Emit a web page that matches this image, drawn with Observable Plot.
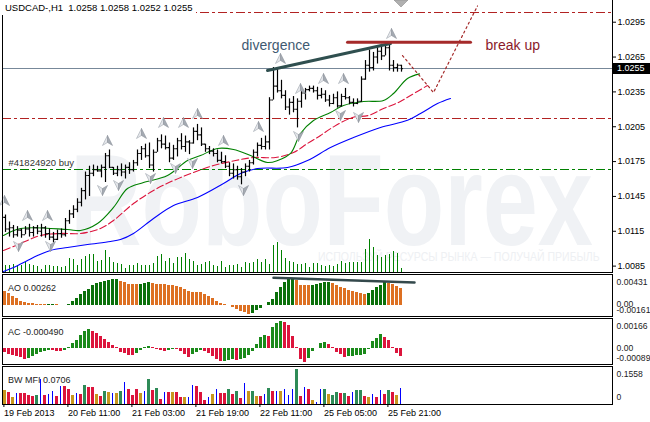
<!DOCTYPE html>
<html>
<head>
<meta charset="utf-8">
<script src="https://cdn.jsdelivr.net/npm/d3@7"></script>
<script src="https://cdn.jsdelivr.net/npm/@observablehq/plot@0.6"></script>
<style>
html,body{margin:0;padding:0;background:#fff;}
#wrap{position:relative;width:650px;height:422px;overflow:hidden;background:#fff;font-family:'Liberation Sans',Arial,sans-serif;}
</style>
</head>
<body>
<div id="wrap"></div>
<script>
// ---------------- DATA ----------------
const symbolName = "USDCAD-,H1";
const high = [1.0129,1.0123,1.0120,1.0119,1.0117,1.0119,1.0121,1.0119,1.0120,1.0121,
1.0119,1.0117,1.0114,1.0116,1.0117,1.0126,1.0133,1.0137,1.0143,1.0152,
1.0166,1.0171,1.0172,1.0171,1.0172,1.0182,1.0185,1.0170,1.0171,1.0173,
1.0172,1.0174,1.0176,1.0185,1.0188,1.0190,1.0191,1.0185,1.0195,1.0198,
1.0197,1.0191,1.0189,1.0195,1.0199,1.0197,1.0193,1.0204,1.0207,1.0204,
1.0190,1.0188,1.0186,1.0185,1.0183,1.0180,1.0174,1.0173,1.0171,1.0169,
1.0173,1.0176,1.0185,1.0191,1.0195,1.0197,1.0230,1.0256,1.0255,1.0245,
1.0236,1.0229,1.0231,1.0229,1.0236,1.0238,1.0240,1.0240,1.0239,1.0238,
1.0236,1.0232,1.0233,1.0235,1.0233,1.0238,1.0231,1.0229,1.0229,1.0248,
1.0262,1.0271,1.0269,1.0274,1.0276,1.0277,1.0277,1.0262,1.0259,1.0258];
const low = [1.0114,1.0110,1.0109,1.0110,1.0109,1.0112,1.0110,1.0110,1.0112,1.0110,
1.0109,1.0107,1.0105,1.0107,1.0109,1.0110,1.0121,1.0126,1.0131,1.0136,
1.0142,1.0145,1.0162,1.0166,1.0161,1.0157,1.0169,1.0163,1.0162,1.0162,
1.0160,1.0164,1.0166,1.0171,1.0176,1.0178,1.0169,1.0166,1.0183,1.0186,
1.0185,1.0174,1.0176,1.0179,1.0185,1.0183,1.0181,1.0190,1.0193,1.0188,
1.0183,1.0181,1.0179,1.0174,1.0173,1.0169,1.0162,1.0160,1.0159,1.0155,
1.0162,1.0166,1.0172,1.0179,1.0185,1.0185,1.0185,1.0228,1.0234,1.0229,
1.0219,1.0215,1.0217,1.0204,1.0221,1.0228,1.0235,1.0234,1.0228,1.0229,
1.0226,1.0222,1.0224,1.0221,1.0222,1.0228,1.0224,1.0222,1.0224,1.0226,
1.0245,1.0252,1.0253,1.0259,1.0262,1.0266,1.0253,1.0252,1.0252,1.0252];
const open = [1.0127,1.0117,1.0118,1.0112,1.0116,1.0112,1.0117,1.0114,1.0118,1.0115,
1.0118,1.0113,1.0110,1.0108,1.0113,1.0112,1.0124,1.0130,1.0134,1.0140,
1.0150,1.0163,1.0165,1.0168,1.0167,1.0170,1.0180,1.0170,1.0165,1.0168,
1.0166,1.0170,1.0168,1.0174,1.0182,1.0186,1.0180,1.0172,1.0183,1.0193,
1.0190,1.0187,1.0178,1.0186,1.0193,1.0188,1.0192,1.0191,1.0201,1.0198,
1.0190,1.0186,1.0184,1.0182,1.0176,1.0175,1.0171,1.0165,1.0168,1.0162,
1.0166,1.0171,1.0174,1.0183,1.0189,1.0188,1.0192,1.0228,1.0240,1.0236,
1.0232,1.0222,1.0226,1.0220,1.0227,1.0234,1.0237,1.0238,1.0236,1.0232,
1.0233,1.0228,1.0225,1.0230,1.0223,1.0231,1.0230,1.0226,1.0225,1.0227,
1.0246,1.0258,1.0256,1.0265,1.0270,1.0266,1.0273,1.0258,1.0256,1.0258];
const close = [1.0117,1.0118,1.0112,1.0116,1.0112,1.0117,1.0114,1.0118,1.0115,1.0118,
1.0113,1.0110,1.0108,1.0113,1.0112,1.0124,1.0130,1.0134,1.0140,1.0150,
1.0163,1.0165,1.0168,1.0167,1.0170,1.0180,1.0170,1.0165,1.0168,1.0166,
1.0170,1.0168,1.0174,1.0182,1.0186,1.0180,1.0172,1.0183,1.0193,1.0190,
1.0187,1.0178,1.0186,1.0193,1.0188,1.0192,1.0191,1.0201,1.0198,1.0190,
1.0186,1.0184,1.0182,1.0176,1.0175,1.0171,1.0165,1.0168,1.0162,1.0166,
1.0171,1.0174,1.0183,1.0189,1.0188,1.0192,1.0228,1.0240,1.0236,1.0232,
1.0222,1.0226,1.0220,1.0227,1.0234,1.0237,1.0238,1.0236,1.0232,1.0233,
1.0228,1.0225,1.0230,1.0223,1.0231,1.0230,1.0226,1.0225,1.0227,1.0246,
1.0258,1.0256,1.0265,1.0270,1.0266,1.0273,1.0258,1.0256,1.0258,1.0255];
const volume = [154,140,175,154,140,210,175,154,126,56,
154,140,126,126,105,126,301,280,154,266,
336,371,385,224,259,455,315,210,189,175,
84,140,154,196,140,140,154,196,329,385,
224,301,196,315,315,406,266,224,154,175,
210,224,140,126,224,105,140,154,175,105,
210,196,210,266,210,280,175,574,630,455,
301,224,210,175,175,189,105,196,189,140,
126,154,126,175,224,196,210,210,210,210,
490,686,525,364,315,350,385,434,406,84];

// Alligator lines (bar index, price)
const jawIdx = [-0.5,2,5.5,8,11.25,15.5,20.5,26.25,28.75,32,37,42,48,54.5,58.75,63,70.5,75.5,81.25,87,93.75,100.5,103.75,108,111.25];
const jawVal = [1.00804,1.00838,1.00898,1.00941,1.00985,1.01010,1.01036,1.01062,1.01079,1.01131,1.01260,1.01372,1.01441,1.01561,1.01647,1.01690,1.01699,1.01759,1.01871,1.01957,1.02044,1.02105,1.02164,1.02250,1.02293];
const teethIdx = [-0.5,2,5.5,8.75,13.75,18.75,23.75,27,32,37,42,47,52,57.5,62,67.5,72,75.5,78.75,81.75,86.75,90.75,94.5,98.25,101.25,105.5];
const teethVal = [1.00985,1.01019,1.01071,1.01114,1.01131,1.01131,1.01174,1.01243,1.01389,1.01501,1.01587,1.01656,1.01716,1.01759,1.01785,1.01785,1.01828,1.01906,1.01975,1.02044,1.02130,1.02147,1.02207,1.02259,1.02319,1.02405];
const lipsIdx = [-0.5,3.75,15.5,18.75,23,27,30.5,34.5,40.5,45.5,48.75,53,57,61.25,65.5,68,71.25,73.75,77,81.25,84.5,89.5,94.5,97,100.5,103.5];
const lipsVal = [1.01114,1.01174,1.01165,1.01157,1.01217,1.01355,1.01518,1.01570,1.01630,1.01759,1.01802,1.01863,1.01854,1.01802,1.01742,1.01759,1.01820,1.01992,1.02104,1.02173,1.02233,1.02267,1.02276,1.02336,1.02465,1.02505];

// Fractals
const upFracIdx = [-0.25,5.5,10.5,25.5,34,39.5,44.5,48,54.5,63.25,68.75,73.75,79.5,84.5,96.5];
const upFracVal = [1.01415,1.01286,1.01286,1.01932,1.01992,1.02087,1.02087,1.02164,1.01932,1.02052,1.02638,1.02379,1.02465,1.02465,1.02853];
const dnFracIdx = [3.25,11.25,24.25,28.25,36.25,42.5,46.75,59.5,73.25,83.75,88.25];
const dnFracVal = [1.01019,1.01019,1.01501,1.01544,1.01604,1.01691,1.01734,1.01501,1.01966,1.02147,1.02130];

// Levels & annotations
const stopLevels = [1.0303, 1.0212];
const buyLevel = 1.0168;
const buyLabel = "#41824920 buy";
const lastPrice = 1.0255;
const divergenceIdx = [65.5, 96.25];
const divergenceVal = [1.02534, 1.02767];
const breakIdx = [85.5, 116.25];
const breakVal = [1.02777, 1.02777];
const forecastIdx = [99.25, 107, 118];
const forecastVal = [1.02663, 1.02345, 1.0309];
const priceTicks = [1.0295,1.0265,1.0235,1.0205,1.0175,1.0145,1.0115,1.0085];

// Oscillators
const ao = [0.00213,0.00181,0.00138,0.00106,0.00064,0.00037,0.00027,0.00021,0.00016,0.00015,
0.00013,0.00014,0.00016,0.00005,-0.00005,-0.00002,0.00016,0.00053,0.00106,0.00165,
0.00223,0.00255,0.00309,0.00340,0.00362,0.00372,0.00394,0.00404,0.00410,0.00378,
0.00356,0.00335,0.00330,0.00325,0.00335,0.00351,0.00356,0.00340,0.00335,0.00330,
0.00325,0.00319,0.00314,0.00298,0.00277,0.00250,0.00218,0.00207,0.00202,0.00197,
0.00176,0.00144,0.00101,0.00064,0.00032,0.00011,-0.00011,-0.00032,-0.00064,-0.00096,
-0.00122,-0.00149,-0.00133,-0.00090,-0.00048,-0.00005,0.00037,0.00096,0.00202,0.00287,
0.00367,0.00415,0.00431,0.00399,0.00319,0.00309,0.00308,0.00319,0.00330,0.00346,
0.00356,0.00367,0.00346,0.00314,0.00287,0.00266,0.00239,0.00218,0.00207,0.00186,
0.00176,0.00186,0.00229,0.00277,0.00314,0.00362,0.00350,0.00330,0.00300,0.00262];
const aoTrendIdx = [67, 102.25];
const aoTrendVal = [0.00435, 0.00360];
const aoScaleLabels = [0.00431, 0, -0.00161];

const ac = [-0.00026,-0.00038,-0.00044,-0.00048,-0.00055,-0.00069,-0.00061,-0.00048,-0.00034,-0.00024,
-0.00016,-0.00012,-0.00014,-0.00016,-0.00018,-0.00010,0.00006,0.00028,0.00048,0.00077,
0.00105,0.00115,0.00105,0.00089,0.00073,0.00057,0.00036,0.00020,0.00006,-0.00022,
-0.00030,-0.00040,-0.00044,-0.00028,-0.00010,0.00008,0.00014,0.00004,-0.00006,-0.00014,
-0.00018,-0.00010,-0.00006,-0.00008,-0.00020,-0.00036,-0.00053,-0.00038,-0.00022,-0.00012,
-0.00018,-0.00028,-0.00046,-0.00067,-0.00079,-0.00077,-0.00073,-0.00069,-0.00071,-0.00069,
-0.00059,-0.00042,-0.00020,0.00024,0.00069,0.00079,0.00075,0.00127,0.00152,0.00166,
0.00158,0.00137,0.00071,0.00004,-0.00067,-0.00085,-0.00059,-0.00018,0.00002,0.00030,
0.00038,0.00024,0.00004,-0.00022,-0.00038,-0.00055,-0.00048,-0.00046,-0.00042,-0.00040,
-0.00038,-0.00004,0.00042,0.00063,0.00083,0.00069,0.00046,0.00006,-0.00032,-0.00049];
const acScaleLabels = [0.00166, 0, -0.00089];

const mfi = [0.0638,0.0549,0.0297,0.0475,0.0475,0.0475,0.0401,0.0356,0.0386,0.1113,
0.0386,0.0460,0.0594,0.0356,0.0787,0.0787,0.0668,0.0386,0.0505,0.0445,
0.0831,0.0757,0.0757,0.0430,0.0341,0.0564,0.0519,0.0475,0.0490,0.0564,
0.0965,0.0653,0.0386,0.0683,0.0475,0.0594,0.1098,0.0623,0.0712,0.0223,
0.0549,0.0549,0.0519,0.0519,0.0312,0.0312,0.0312,0.0846,0.0787,0.0519,
0.0178,0.0312,0.0430,0.0653,0.0475,0.0475,0.0653,0.0430,0.0579,0.0282,
0.0920,0.0564,0.0564,0.0371,0.0356,0.0430,0.0697,0.0564,0.0564,0.0564,
0.0683,0.0416,0.0668,0.1558,0.0356,0.0757,0.0668,0.0163,0.0104,0.0668,
0.0653,0.0430,0.0416,0.0519,0.0505,0.0490,0.0356,0.0549,0.0608,0.0608,
0.0356,0.0312,0.0430,0.0326,0.0638,0.0430,0.0608,0.0519,0.0416,0.0706];
// G = green, S = squat, F = fade, K = fake
const mfiType = ("FSFKSSSSGK"+"SKKSKSSFKS"+"GSSFSGFKFG"+"KSSSFKGSGS"+"KSFSSFKKSS"+
                 "SKFKSSGSGS"+"KFGFSKGSKF"+"KKKGSKSFKK"+"GFGGSGSKGG"+"SFKSKSGSFK").split("");
const mfiScaleLabels = [0.1558, 0];

const tickBars = [0,16,32,48,64,80,96];
const tickLabels = ["19 Feb 2013","20 Feb 11:00","21 Feb 03:00","21 Feb 19:00","22 Feb 11:00","25 Feb 05:00","25 Feb 21:00"];

// ---------------- BUILD ----------------
const FONT = "'Liberation Sans', Arial, sans-serif";
const wrap = document.getElementById("wrap");
function place(el, top) {
  el.style.position = "absolute"; el.style.left = "0px"; el.style.top = top + "px";
  el.style.maxWidth = "none"; wrap.appendChild(el); return el;
}
const pairs = (I, V) => I.map((i, k) => ({i, v: V[k]}));
const bars = high.map((h, i) => ({i, o: open[i], h, l: low[i], c: close[i], vol: volume[i]}));

// watermark (logo, decorative) – squeezed horizontally with a transform
wrap.insertAdjacentHTML("beforeend",
 `<svg id="wm" width="650" height="272" style="position:absolute;left:0;top:0">
   <text id="wm1" x="0" y="0" font-family="Liberation Sans, Arial, sans-serif" font-weight="bold" font-size="130" fill="#f0f2f5">RoboForex</text>
   <text id="wm2" x="0" y="0" font-family="Liberation Sans, Arial, sans-serif" font-size="13" fill="#eef0f3">ИСПОЛЬЗУЙ РЕСУРСЫ РЫНКА — ПОЛУЧАЙ ПРИБЫЛЬ</text>
  </svg>`);
function squeeze(id, x, y, w) {
  const t = document.getElementById(id);
  const k = w / t.getComputedTextLength();
  t.setAttribute("transform", `translate(${x},${y}) scale(${k},1)`);
}
squeeze("wm1", 70, 245, 523);
squeeze("wm2", 318, 261, 282);

const X = {domain: [-0.75, 151.75]};
const upL = {draw(c){c.moveTo(0,-5);c.lineTo(-5,5);c.lineTo(0,2);c.closePath();}};
const upR = {draw(c){c.moveTo(0,-5);c.lineTo(5,5);c.lineTo(0,2);c.closePath();}};
const dnL = {draw(c){c.moveTo(0,5);c.lineTo(-5,-5);c.lineTo(0,-2);c.closePath();}};
const dnR = {draw(c){c.moveTo(0,5);c.lineTo(5,-5);c.lineTo(0,-2);c.closePath();}};
const upF = pairs(upFracIdx, upFracVal), dnF = pairs(dnFracIdx, dnFracVal);

const yDom = [1.00795, 1.03137];
const volBase = yDom[0];
const volUnit = 0.002815 / 686;
const dashDot = "9,3,3,3";

const main = Plot.plot({
  width: 650, height: 274, marginTop: 0, marginBottom: 2, marginLeft: 2, marginRight: 38,
  style: {background: "transparent", fontFamily: FONT, fontSize: "9px", color: "#000", overflow: "visible"},
  x: {...X, axis: null},
  y: {domain: yDom},
  marks: [
    Plot.ruleY(stopLevels, {stroke: "#b22222", strokeDasharray: dashDot, shapeRendering: "crispEdges"}),
    Plot.ruleY([buyLevel], {stroke: "#008000", strokeDasharray: dashDot, shapeRendering: "crispEdges"}),
    Plot.ruleY([lastPrice], {stroke: "#778899", shapeRendering: "crispEdges"}),
    Plot.ruleX(bars, {x: "i", y1: volBase, y2: d => volBase + d.vol * volUnit, stroke: "#008000", shapeRendering: "crispEdges"}),
    Plot.line(pairs(jawIdx, jawVal), {x: "i", y: "v", stroke: "#0000ff", strokeWidth: 1.1, curve: "catmull-rom"}),
    Plot.line(pairs(teethIdx, teethVal), {x: "i", y: "v", stroke: "#dc143c", strokeWidth: 1.1, strokeDasharray: "7,3", curve: "catmull-rom"}),
    Plot.line(pairs(lipsIdx, lipsVal), {x: "i", y: "v", stroke: "#008000", strokeWidth: 1.1, curve: "catmull-rom"}),
    Plot.ruleX(bars, {x: "i", y1: "l", y2: "h", stroke: "#000", strokeWidth: 1.2}),
    Plot.ruleY(bars, {y: "o", x1: d => d.i - 0.45, x2: "i", stroke: "#000", strokeWidth: 1.1}),
    Plot.ruleY(bars, {y: "c", x1: "i", x2: d => d.i + 0.45, stroke: "#000", strokeWidth: 1.1}),
    Plot.dot(upF, {x: "i", y: "v", symbol: upL, fill: "#e4e6ea", stroke: "#a0a6ae", strokeWidth: 0.6}),
    Plot.dot(upF, {x: "i", y: "v", symbol: upR, fill: "#a4aab2", stroke: "#8e949c", strokeWidth: 0.6}),
    Plot.dot(dnF, {x: "i", y: "v", symbol: dnL, fill: "#e4e6ea", stroke: "#a0a6ae", strokeWidth: 0.6}),
    Plot.dot(dnF, {x: "i", y: "v", symbol: dnR, fill: "#a4aab2", stroke: "#8e949c", strokeWidth: 0.6}),
    Plot.line(pairs(divergenceIdx, divergenceVal), {x: "i", y: "v", stroke: "#2f4f4f", strokeWidth: 3}),
    Plot.line(pairs(breakIdx, breakVal), {x: "i", y: "v", stroke: "#a52a2a", strokeWidth: 3}),
    Plot.line(pairs(forecastIdx, forecastVal), {x: "i", y: "v", stroke: "#a52a2a", strokeWidth: 1.2, strokeDasharray: "2,3"}),
    Plot.text(["divergence"], {x: 59, y: 1.02715, text: d => d, textAnchor: "start", lineAnchor: "bottom", fontSize: 14, fill: "#3f5a72"}),
    Plot.text(["break up"], {x: 120, y: 1.02715, text: d => d, textAnchor: "start", lineAnchor: "bottom", fontSize: 14, fill: "#8b1a2b"}),
    Plot.text([buyLabel], {x: 0.75, y: 1.01708, text: d => d, textAnchor: "start", lineAnchor: "bottom", fontSize: 9.5, fill: "#333"}),
    Plot.axisY({anchor: "right", ticks: priceTicks, tickSize: 3, tickPadding: 2, tickFormat: d3.format(".4f"), fontSize: 9, fill: "#000", stroke: "#000"})
  ]
});
place(main, 0);

// main frame lines
wrap.insertAdjacentHTML("beforeend",
 `<div style="position:absolute;left:2px;top:0;width:1px;height:273px;background:#000"></div>
  <div style="position:absolute;left:612px;top:0;width:1px;height:273px;background:#000"></div>
  <div style="position:absolute;left:2px;top:272px;width:611px;height:1px;background:#000"></div>
  <svg width="20" height="10" style="position:absolute;left:391px;top:0"><path d="M3,0 L17,0 L10,7 Z" fill="#b0b0b0" stroke="#8c8c8c" stroke-width="0.6"/></svg>`);

// header
const hdr = document.createElement("div");
hdr.textContent = `${symbolName}  ${[open.at(-1), high.at(-1), low.at(-1), close.at(-1)].map(v => v.toFixed(4)).join(" ")}`;
Object.assign(hdr.style, {position: "absolute", left: "0px", top: "0px", padding: "2px 3px 1px 5px", background: "#fff",
  font: `9.5px ${FONT}`, color: "#000", whiteSpace: "pre", lineHeight: "12px"});
wrap.appendChild(hdr);

// current price box
const yy = main.scale("y").apply(lastPrice);
const box = document.createElement("div");
box.textContent = lastPrice.toFixed(4);
Object.assign(box.style, {position: "absolute", left: "613px", top: (yy - 5.5) + "px", width: "33px", height: "11px",
  paddingLeft: "4px", background: "#000", color: "#fff", font: `9px ${FONT}`, lineHeight: "11px"});
wrap.appendChild(box);

// ---------------- SUB PANELS ----------------
function subPlot(top, h, mb, ydom, marks, withX) {
  const p = Plot.plot({
    width: 650, height: h, marginTop: 1, marginBottom: mb, marginLeft: 2, marginRight: 38,
    style: {background: "transparent", fontFamily: FONT, fontSize: "9px", color: "#000", overflow: "visible"},
    x: withX ? X : {...X, axis: null},
    y: {domain: ydom, axis: null},
    marks
  });
  return place(p, top);
}
const labelMark = (t, dy) => Plot.text([t], {frameAnchor: "top-left", text: d => d, dx: 5.5, dy, textAnchor: "start", fontSize: 9, fill: "#222"});
const scaleLabel = (v, txt, dy) => Plot.text([v], {y: d => d, text: () => txt, frameAnchor: "right", dx: 4, dy, textAnchor: "start", fontSize: 8.6, fill: "#222"});

// AO
const aoData = ao.map((v, i) => ({i, v, up: i > 0 && v > ao[i - 1]}));
subPlot(273, 44, 1, [-0.00179, 0.00487], [
  Plot.rect(aoData, {x1: d => d.i - 0.4, x2: d => d.i + 0.22, y1: () => 0, y2: "v", fill: d => d.up ? "#0a700a" : "#dd7022", shapeRendering: "crispEdges"}),
  Plot.line(pairs(aoTrendIdx, aoTrendVal), {x: "i", y: "v", stroke: "#34494c", strokeWidth: 2.5}),
  Plot.frame({stroke: "#000", shapeRendering: "crispEdges"}),
  labelMark(`AO ${ao.at(-1).toFixed(5)}`, 10.5),
  scaleLabel(aoScaleLabels[0], aoScaleLabels[0].toFixed(5), 4),
  scaleLabel(aoScaleLabels[1], "0.00", -1),
  scaleLabel(aoScaleLabels[2], aoScaleLabels[2].toFixed(5), -5.6)
]);

// AC
const acData = ac.map((v, i) => ({i, v, up: i > 0 && v > ac[i - 1]}));
subPlot(317, 48, 1, [-0.00097, 0.00182], [
  Plot.rect(acData, {x1: d => d.i - 0.4, x2: d => d.i + 0.22, y1: () => 0, y2: "v", fill: d => d.up ? "#1a8a1a" : "#dc143c", shapeRendering: "crispEdges"}),
  Plot.frame({stroke: "#000", shapeRendering: "crispEdges"}),
  labelMark(`AC ${ac.at(-1).toFixed(6)}`, 10),
  scaleLabel(acScaleLabels[0], acScaleLabels[0].toFixed(5), 5.4),
  scaleLabel(acScaleLabels[1], "0.00", 0),
  scaleLabel(acScaleLabels[2], acScaleLabels[2].toFixed(5), -5)
]);

// BW MFI
const mfiColor = {G: "#2e8b57", S: "#dc143c", F: "#c8961e", K: "#0000ff"};
const mfiData = mfi.map((v, i) => ({i, v, t: mfiType[i]}));
const tickPos = tickBars.map(b => b - 0.4);
subPlot(365, 58, 19, [0, 0.169], [
  Plot.rect(mfiData.filter(d => d.t !== "K"), {x1: d => d.i - 0.4, x2: d => d.i + 0.25, y1: () => 0, y2: "v", fill: d => mfiColor[d.t], shapeRendering: "crispEdges"}),
  Plot.rect(mfiData.filter(d => d.t === "K"), {x1: d => d.i - 0.15, x2: d => d.i + 0.1, y1: () => 0, y2: "v", fill: mfiColor.K, shapeRendering: "crispEdges"}),
  Plot.frame({stroke: "#000", shapeRendering: "crispEdges"}),
  labelMark(`BW MFI ${mfi.at(-1).toFixed(4)}`, 10),
  scaleLabel(mfiScaleLabels[0], mfiScaleLabels[0].toFixed(4), 5),
  scaleLabel(mfiScaleLabels[1], "0", -7.5),
  Plot.axisX(tickPos, {tickSize: 3, tickPadding: 2, textAnchor: "start", fontSize: 9, fill: "#000", stroke: "#000",
    tickFormat: d => tickLabels[tickPos.indexOf(d)]})
], true);
</script>
</body>
</html>
